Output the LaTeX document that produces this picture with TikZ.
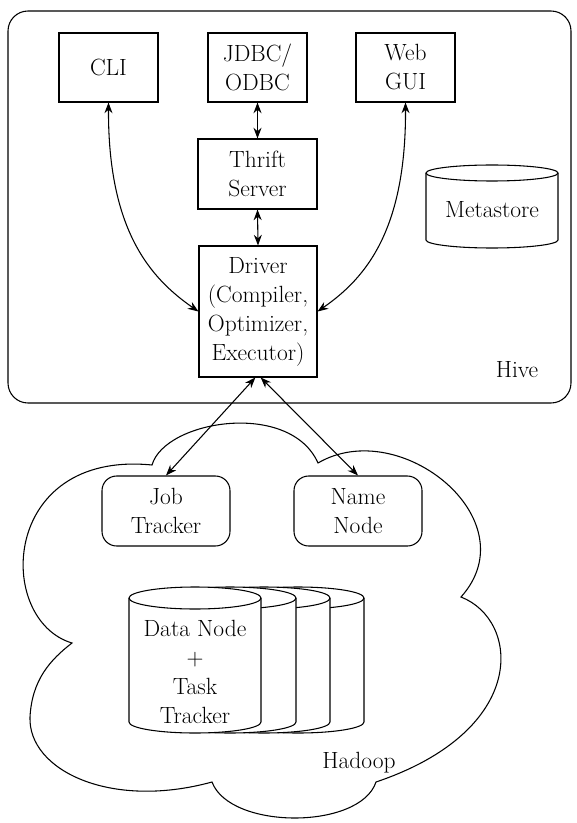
\documentclass[tikz,border=0pt]{standalone}
\usetikzlibrary{arrows.meta}

\tikzset{every picture/.style={line width=0.8pt}}
\tikzset{
  blk/.style={draw, rectangle, align=center, inner sep=2pt},
  trk/.style={draw, rectangle, rounded corners=11pt, align=center, inner sep=2pt, minimum width=96pt, minimum height=52.5pt},
  biarr/.style={{Stealth[length=8pt,width=6pt]}-{Stealth[length=8pt,width=6pt]}},
}

% drum: centre x, x radius, top y, bottom y, y radius
\newcommand{\drum}[5]{%
  \filldraw[fill=white] (#1-#2,#3+#5) -- (#1-#2,#4-#5) arc[start angle=180,end angle=0,x radius=#2,y radius=#5] -- (#1+#2,#3+#5) arc[start angle=360,end angle=180,x radius=#2,y radius=#5] -- cycle;
  \draw (#1-#2,#3+#5) arc[start angle=180,end angle=0,x radius=#2,y radius=#5];
}

\begin{document}
\begin{tikzpicture}[x=0.75pt,y=0.75pt,yscale=-1,xscale=1,font=\fontsize{17.6}{21.75}\selectfont]
\useasboundingbox (0,0) rectangle (576,823);

%Hive frame
\draw [rounded corners=15pt] (8,11) rectangle (571,403);

%Hive boxes
\node [blk, minimum width=74.25pt, minimum height=51.75pt] (cli) at (108.5,67.5) {CLI};
\node [blk, minimum width=74.25pt, minimum height=51.75pt] (jdbc) at (257.5,67.5) {JDBC/\\ODBC};
\node [blk, minimum width=74.25pt, minimum height=51.75pt] (web) at (405.5,67.5) {Web\\GUI};
\node [blk, minimum width=89.25pt, minimum height=52.5pt] (thrift) at (257.5,174) {Thrift\\Server};
\node [blk, minimum width=88.5pt, minimum height=98.25pt, inner sep=1pt] (driver) at (258,311.5) {Driver\\(Compiler,\\Optimizer,\\Executor)};

%Metastore
\drum{492}{66}{165}{248}{8}
\node (meta) at (492,210) {Metastore};

\node (hivelbl) at (517,370) {Hive};

%Hadoop cloud
\draw (152,465) .. controls (165,420) and (290,400) .. (318,463)
  .. controls (400,415) and (530,520) .. (461,597)
  .. controls (520,620) and (530,730) .. (376,782)
  .. controls (360,830) and (230,830) .. (212,782)
  .. controls (110,810) and (28,770) .. (30,717)
  .. controls (32,680) and (50,660) .. (72,643)
  .. controls (-5,620) and (0,450) .. (152,465) -- cycle;

\node [trk] (job) at (166,511) {Job\\Tracker};
\node [trk] (name) at (358,511) {Name\\Node};

%Data nodes, back to front
\drum{298}{66}{587}{733}{11}
\drum{264}{66}{587}{733}{11}
\drum{230}{66}{587}{733}{11}
\drum{195}{66}{587}{733}{11}
\node [align=center] (data) at (195,672) {Data Node\\+\\Task\\Tracker};

\node (hadooplbl) at (359,763) {Hadoop};

%Arrows
\draw [biarr] (jdbc.south) -- (thrift.north);
\draw [biarr] (thrift.south) -- (driver.north);
\draw [biarr] (cli.south) .. controls (108,230) and (150,278) .. (driver.west);
\draw [biarr] (web.south) .. controls (406,230) and (366,278) .. (driver.east);
\draw [biarr] ([xshift=-2pt]driver.south) -- (job.north);
\draw [biarr] ([xshift=2pt]driver.south) -- (name.north);

\end{tikzpicture}
\end{document}
